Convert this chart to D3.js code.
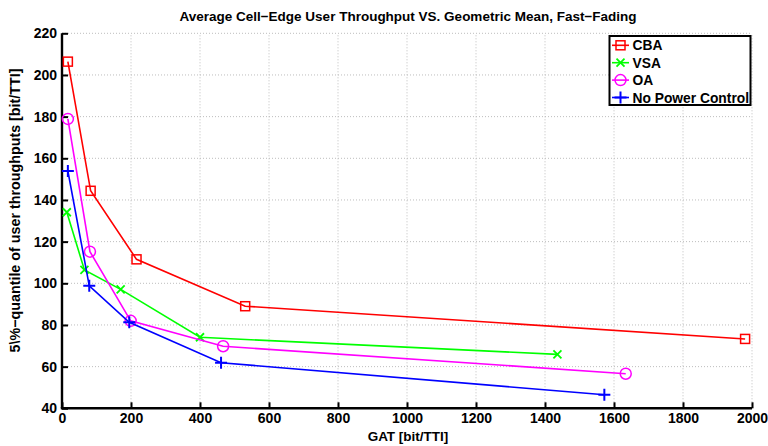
<!DOCTYPE html>
<html>
<head>
<meta charset="utf-8">
<script src="https://cdn.jsdelivr.net/npm/d3@7"></script>
<style>
  html, body { margin: 0; padding: 0; background: #fff; }
  svg { display: block; }
  text { font-family: "Liberation Sans", Arial, Helvetica, sans-serif; font-weight: bold; fill: #000; }
</style>
</head>
<body>
<svg id="chart" width="768" height="446"></svg>
<script>
const title = "Average Cell\u2212Edge User Throughput VS. Geometric Mean, Fast\u2212Fading";
const xLabel = "GAT [bit/TTI]";
const yLabel = "5\\%\u2212quantile of user throughputs [bit/TTI]";

const seriesNames = ["CBA", "VSA", "OA", "No Power Control"];
const cbaX = [17, 83, 216, 531, 1980];
const cbaY = [206.4, 144.4, 111.5, 89.0, 73.3];
const vsaX = [14, 65, 170, 400, 1436];
const vsaY = [134.1, 106.4, 97.1, 74.1, 65.9];
const oaX = [17, 81, 199, 467, 1634];
const oaY = [178.9, 115.2, 82.0, 69.8, 56.6];
const npcX = [17, 79, 195, 461, 1572];
const npcY = [153.9, 98.8, 81.3, 61.9, 46.5];

const xTicks = [0, 200, 400, 600, 800, 1000, 1200, 1400, 1600, 1800, 2000];
const yTicks = [40, 60, 80, 100, 120, 140, 160, 180, 200, 220];

const colors = ["#ff0000", "#00ff00", "#ff00ff", "#0000ff"];
const markers = ["square", "x", "circle", "plus"];

const series = [
  { name: seriesNames[0], xs: cbaX, ys: cbaY },
  { name: seriesNames[1], xs: vsaX, ys: vsaY },
  { name: seriesNames[2], xs: oaX, ys: oaY },
  { name: seriesNames[3], xs: npcX, ys: npcY }
];

const L = 62, R = 752, T = 33.3, B = 408.3;
const x = d3.scaleLinear().domain([0, 2000]).range([L, R]);
const y = d3.scaleLinear().domain([40, 220]).range([B, T]);

const svg = d3.select("#chart");

// grid
const grid = svg.append("g");
grid.selectAll("line.vg").data(xTicks.slice(1)).join("line")
  .attr("x1", d => x(d)).attr("x2", d => x(d)).attr("y1", B).attr("y2", T)
  .attr("stroke", "#bdbdbd").attr("stroke-width", 1).attr("stroke-dasharray", "1,2");
grid.selectAll("line.hg").data(yTicks.slice(1)).join("line")
  .attr("x1", L).attr("x2", R).attr("y1", d => y(d)).attr("y2", d => y(d))
  .attr("stroke", "#bdbdbd").attr("stroke-width", 1).attr("stroke-dasharray", "1,2");

// axes
const xAxis = d3.axisBottom(x).tickValues(xTicks).tickFormat(d3.format("d"))
  .tickSizeInner(-6).tickSizeOuter(0).tickPadding(5);
const yAxis = d3.axisLeft(y).tickValues(yTicks).tickFormat(d3.format("d"))
  .tickSizeInner(-6).tickSizeOuter(0).tickPadding(5);
const gx = svg.append("g").attr("transform", `translate(0,${B})`).call(xAxis);
const gy = svg.append("g").attr("transform", `translate(${L},0)`).call(yAxis);
[gx, gy].forEach(g => {
  g.select(".domain").attr("stroke", "#000").attr("stroke-width", 2.4);
  g.selectAll(".tick line").attr("stroke", "#000").attr("stroke-width", 2);
  g.selectAll(".tick text").style("font-size", "14px").style("font-weight", "bold")
    .style("font-family", "Liberation Sans, Arial, sans-serif").attr("fill", "#000");
});
gx.select(".domain").attr("d", `M${L - 1.2},0H${R}`);
gy.select(".domain").attr("d", `M0,${B}V${T}`);

function drawMarker(g, type, color) {
  if (type === "square") {
    g.append("rect").attr("x", -4.5).attr("y", -4.5).attr("width", 9).attr("height", 9)
      .attr("fill", "none").attr("stroke", color).attr("stroke-width", 1.5);
  } else if (type === "circle") {
    g.append("circle").attr("r", 5.5).attr("fill", "none").attr("stroke", color).attr("stroke-width", 1.5);
  } else if (type === "x") {
    g.append("path").attr("d", "M-4,-4L4,4M-4,4L4,-4").attr("stroke", color).attr("stroke-width", 1.8);
  } else if (type === "plus") {
    g.append("path").attr("d", "M-6,0H6M0,-6V6").attr("stroke", color).attr("stroke-width", 2);
  }
}

const line = d3.line().x(d => x(d[0])).y(d => y(d[1]));
series.forEach((s, i) => {
  const pts = s.xs.map((v, j) => [v, s.ys[j]]);
  svg.append("path").datum(pts).attr("d", line).attr("fill", "none")
    .attr("stroke", colors[i]).attr("stroke-width", 1.6);
  pts.forEach(p => {
    const g = svg.append("g").attr("transform", `translate(${x(p[0])},${y(p[1])})`);
    drawMarker(g, markers[i], colors[i]);
  });
});

// title & labels
svg.append("text").attr("x", 408).attr("y", 21).attr("text-anchor", "middle")
  .style("font-size", "13.5px").text(title);
svg.append("text").attr("x", 408).attr("y", 441).attr("text-anchor", "middle")
  .style("font-size", "13.5px").text(xLabel);
svg.append("text").attr("transform", `translate(20,210.5) rotate(-90)`)
  .attr("text-anchor", "middle").style("font-size", "14.3px").text(yLabel);

// legend
const lg = svg.append("g");
lg.append("rect").attr("x", 609.5).attr("y", 36).attr("width", 141).attr("height", 69)
  .attr("fill", "#fff").attr("stroke", "#000").attr("stroke-width", 2);
series.forEach((s, i) => {
  const yy = 45.3 + i * 17.4;
  lg.append("line").attr("x1", 612).attr("x2", 629).attr("y1", yy).attr("y2", yy)
    .attr("stroke", colors[i]).attr("stroke-width", 1.6);
  const g = lg.append("g").attr("transform", `translate(620.5,${yy})`);
  drawMarker(g, markers[i], colors[i]);
  lg.append("text").attr("x", 632.5).attr("y", yy + 5).style("font-size", "13.8px").text(s.name);
});
</script>
</body>
</html>
